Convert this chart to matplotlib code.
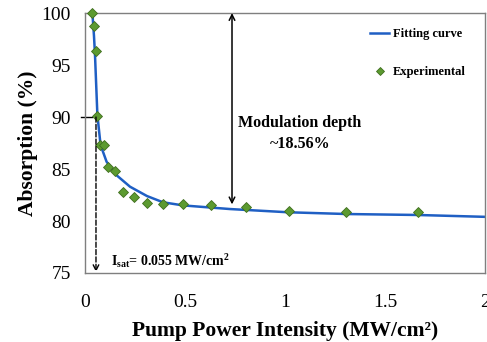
import matplotlib
matplotlib.use("Agg")
import matplotlib.pyplot as plt

# experimental points
exp_x = [0.035, 0.045, 0.055, 0.06, 0.075, 0.095, 0.115, 0.15, 0.19, 0.245,
         0.31, 0.39, 0.49, 0.63, 0.805, 1.02, 1.305, 1.665]
exp_y = [100.0, 98.75, 96.35, 90.1, 87.3, 87.3, 85.2, 84.8, 82.8, 82.3,
         81.7, 81.6, 81.6, 81.5, 81.3, 81.0, 80.9, 80.9]

# fitting curve
fit_x = [0.037, 0.045, 0.05, 0.062, 0.078, 0.108, 0.158, 0.225, 0.31, 0.39,
         0.49, 0.725, 1.015, 1.31, 1.66, 2.0]
fit_y = [100.0, 97.8, 96.0, 90.2, 87.3, 85.7, 84.4, 83.3, 82.4, 81.8,
         81.5, 81.15, 80.84, 80.67, 80.58, 80.4]

xticks = [0, 0.5, 1, 1.5, 2]
xtick_labels = ["0", "0.5", "1", "1.5", "2"]
yticks = [75, 80, 85, 90, 95, 100]

plt.rcParams['font.family'] = ['Liberation Serif', 'DejaVu Serif']
plt.rcParams['mathtext.fontset'] = 'custom'
plt.rcParams['mathtext.rm'] = 'Liberation Serif'
plt.rcParams['mathtext.bf'] = 'Liberation Serif:bold'
plt.rcParams['mathtext.it'] = 'Liberation Serif:italic'

fig = plt.figure(figsize=(4.87, 3.42), dpi=100)
ax = fig.add_axes([0.1745, 0.2018, 0.8215, 0.76])

ax.plot(fit_x, fit_y, color='#1f5fc4', lw=1.8, label='Fitting curve', zorder=2)
ax.plot(exp_x, exp_y, ls='none', marker='D', ms=5.5, color='#5c9a30',
        mec='#3f6e1e', mew=0.6, label='Experimental', zorder=3, clip_on=False)

ax.set_xlim(0, 2)
ax.set_ylim(75, 100)
ax.set_xticks(xticks)
ax.set_xticklabels(xtick_labels)
ax.set_yticks(yticks)
ax.tick_params(length=0, labelsize=14, pad=10)
ax.tick_params(axis='x', pad=15)
for s in ax.spines.values():
    s.set_color('#7f7f7f')
    s.set_linewidth(1.0)

ax.set_xlabel('Pump Power Intensity (MW/cm²)', fontsize=15.5,
              fontweight='bold', labelpad=7)
ax.set_ylabel('Absorption (%)', fontsize=15.5, fontweight='bold', labelpad=3)

# modulation depth arrow
ax.annotate('', xy=(0.735, 81.6), xytext=(0.735, 100),
            arrowprops=dict(arrowstyle='<->', color='black', lw=1.1,
                            shrinkA=0, shrinkB=0))
ax.text(1.075, 88.4, 'Modulation depth\n~18.56%', ha='center', va='center',
        fontsize=11.5, fontweight='bold', linespacing=1.45)

# saturation intensity marker
ax.annotate('', xy=(0.055, 75.1), xytext=(0.055, 90),
            arrowprops=dict(arrowstyle='->', color='black', lw=1.0, ls='--',
                            shrinkA=0, shrinkB=0))
ax.plot([-0.02, 0.035], [90, 90], color='black', lw=1.0, clip_on=False)
ax.text(0.13, 76.2, r'I$_{\mathbf{sat}}$= 0.055 MW/cm$^{\mathbf{2}}$', ha='left',
        va='center', fontsize=10, fontweight='bold')

ax.legend(loc='upper right', bbox_to_anchor=(0.98, 0.985), frameon=False,
          prop={'weight': 'bold', 'size': 9}, labelspacing=2.1,
          handlelength=1.5, handletextpad=0.3, markerscale=0.8)

fig.savefig('out.png', dpi=100)
